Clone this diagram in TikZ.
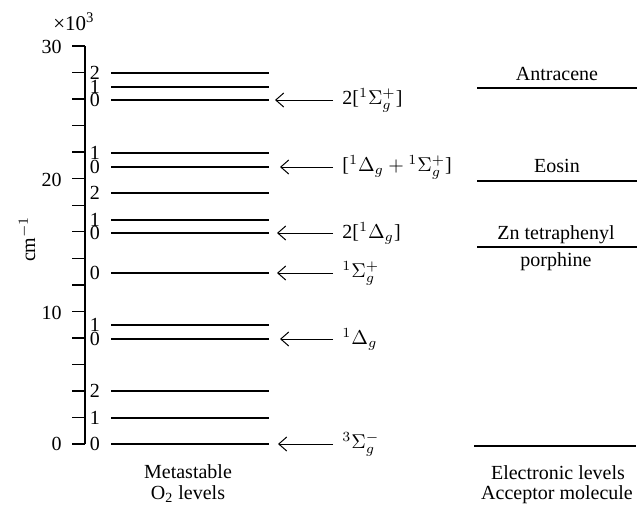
\documentclass[tikz,border=0pt]{standalone}
\usepackage{fontspec}
\setmainfont{Liberation Serif}
\usetikzlibrary{arrows.meta}
\begin{document}
\begin{tikzpicture}[x=0.5pt,y=-0.5pt,
  axisline/.style={line width=0.8pt},
  tickline/.style={line width=0.7pt},
  lvl/.style={line width=0.6pt},
  arr/.style={line width=0.5pt,-{Straight Barb[length=4pt,width=7pt]}},
  num/.style={inner sep=0pt,anchor=center},
  ax/.style={inner sep=0pt,anchor=east},
  term/.style={inner xsep=4.5pt,inner ysep=0pt,anchor=west},
  mol/.style={inner sep=0pt,anchor=base}]
\useasboundingbox (0,0) rectangle (638,505);
% axis
\draw[axisline] (85,46) coordinate (atop) -- (85,444) coordinate (abot);
\foreach \v in {0,...,15}
  \draw[tickline] (72,{444-\v*26.533}) -- (85,{444-\v*26.533});
\node[ax] (t30) at (62,47) {30};
\node[ax] (t20) at (62,180) {20};
\node[ax] (t10) at (62,313) {10};
\node[ax] (t0) at (62,444) {0};
\node[inner sep=0pt] (mult) at (74,22) {\fontsize{10.5}{12}\selectfont ×10\textsuperscript{3}};
\node[inner sep=0pt,rotate=90] (unit) at (27,239) {cm$^{-1}$};
% O2 levels
\foreach \y/\n [count=\i] in {444/0,418/1,391/2,339/0,325/1,273/0,233/0,220/1,193/2,167/0,153/1,100/0,87/1,73/2}{
  \draw[lvl] (111,\y) -- (269,\y);
  \node[num] (v\i) at (95,\y) {\n};
}
% arrows and terms
\node[term] (s1) at (333,100) {2[$^1\Sigma_g^+$]};
\node[term] (s2) at (333,167) {[$^1\Delta_g+{}^1\Sigma_g^+$]};
\node[term] (s3) at (333,233) {2[$^1\Delta_g$]};
\node[term] (s4) at (333,273) {$^1\Sigma_g^+$};
\node[term] (s5) at (333,339) {$^1\Delta_g$};
\node[term] (s6) at (333,444) {$^3\Sigma_g^-$};
\coordinate (p1) at (275,100);
\coordinate (p2) at (280,167);
\coordinate (p3) at (277,233);
\coordinate (p4) at (277,273);
\coordinate (p5) at (280,339);
\coordinate (p6) at (278,444);
\foreach \i in {1,...,6}
  \draw[arr] (p\i -| s\i.west) -- (p\i);
% acceptor levels
\draw[lvl] (477,88) -- (637,88);
\draw[lvl] (477,181) -- (637,181);
\draw[lvl] (477,247) -- (637,247);
\draw[lvl] (474,446) -- (636,446);
\node[mol] (ant) at (557,80) {Antracene};
\node[mol] (eos) at (557,172) {Eosin};
\node[mol] (zn) at (556,239) {Zn tetraphenyl};
\node[mol] (por) at (556,266) {porphine};
% captions
\node[mol] (meta1) at (188,478) {Metastable};
\node[mol] (meta2) at (188,499) {O\textsubscript{2} levels};
\node[mol] (el1) at (558,479) {Electronic levels};
\node[mol] (el2) at (557,499) {Acceptor molecule};
\end{tikzpicture}
\end{document}
